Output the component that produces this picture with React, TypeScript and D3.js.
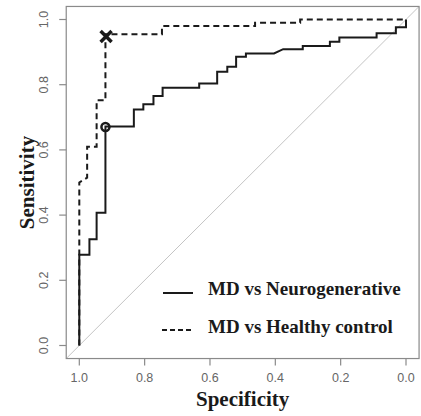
import React from "react";
import * as d3 from "d3";

// ROC points (specificity, sensitivity)
const neuroSpec = [1, 1, 0.969, 0.969, 0.947, 0.947, 0.92, 0.92, 0.833, 0.833, 0.804, 0.804, 0.773, 0.773, 0.745, 0.745, 0.633, 0.633, 0.578, 0.578, 0.547, 0.547, 0.52, 0.52, 0.49, 0.49, 0.404, 0.376, 0.316, 0.316, 0.233, 0.233, 0.204, 0.204, 0.09, 0.09, 0.031, 0.031, 0, 0];
const neuroSens = [0, 0.278, 0.278, 0.326, 0.326, 0.407, 0.407, 0.672, 0.672, 0.724, 0.724, 0.74, 0.74, 0.765, 0.765, 0.791, 0.791, 0.804, 0.804, 0.84, 0.84, 0.855, 0.855, 0.886, 0.886, 0.896, 0.896, 0.909, 0.909, 0.919, 0.919, 0.932, 0.932, 0.945, 0.945, 0.958, 0.958, 0.976, 0.976, 1];

const healthySpec = [1, 1, 0.976, 0.976, 0.947, 0.947, 0.92, 0.92, 0.747, 0.747, 0.462, 0.462, 0.324, 0.324, 0];
const healthySens = [0, 0.5, 0.515, 0.61, 0.61, 0.752, 0.752, 0.955, 0.955, 0.98, 0.98, 0.99, 0.99, 1, 1];

// best thresholds
const neuroBest = [0.92, 0.67];
const healthyBest = [0.918, 0.948];

const xTicks = [1, 0.8, 0.6, 0.4, 0.2, 0];
const yTicks = [0, 0.2, 0.4, 0.6, 0.8, 1];
const seriesNames = ["MD vs Neurogenerative", "MD vs Healthy control"];

const W = 421;
const H = 416;

export default function App() {
  const x = d3.scaleLinear().domain([1, 0]).range([79.3, 406]);
  const y = d3.scaleLinear().domain([0, 1]).range([345.5, 19.5]);

  const left = x(1.04);
  const right = x(-0.04);
  const top = y(1.04);
  const bottom = y(-0.04);

  const line = d3
    .line<number>()
    .x((d) => d)
    .y((d) => d);

  const toPath = (sp: number[], se: number[]) =>
    d3
      .line<number>()
      .x((_, i) => x(sp[i]))
      .y((_, i) => y(se[i]))(sp) as string;

  const axisColor = "#8a8a8a";
  const labelColor = "#666";
  const ink = "#1a1a1a";
  const serif = "'Liberation Serif', 'Times New Roman', serif";
  const sans = "'Liberation Sans', Arial, sans-serif";

  const mx = x(healthyBest[0]);
  const my = y(healthyBest[1]);
  const xs = 5.5;

  return (
    <svg
      width={W}
      height={H}
      style={{ position: "absolute", left: 0, top: 0, background: "#fff" }}
    >
      <defs>
        <clipPath id="plot">
          <rect x={left} y={top} width={right - left} height={bottom - top} />
        </clipPath>
      </defs>

      {/* diagonal reference */}
      <line
        x1={x(1.04)}
        y1={y(-0.04)}
        x2={x(-0.04)}
        y2={y(1.04)}
        stroke="#c4c4c4"
        strokeWidth={1}
        clipPath="url(#plot)"
      />

      {/* curves */}
      <path d={toPath(neuroSpec, neuroSens)} fill="none" stroke={ink} strokeWidth={2} />
      <path
        d={toPath(healthySpec, healthySens)}
        fill="none"
        stroke={ink}
        strokeWidth={2}
        strokeDasharray="6,4"
      />

      {/* threshold markers */}
      <circle cx={x(neuroBest[0])} cy={y(neuroBest[1])} r={4} fill="none" stroke={ink} strokeWidth={2.5} />
      <g stroke={ink} strokeWidth={3.5} strokeLinecap="butt">
        <line x1={mx - xs} y1={my - xs} x2={mx + xs} y2={my + xs} />
        <line x1={mx - xs} y1={my + xs} x2={mx + xs} y2={my - xs} />
      </g>

      {/* frame */}
      <rect x={left} y={top} width={right - left} height={bottom - top} fill="none" stroke={axisColor} strokeWidth={1.2} />

      {/* x axis */}
      {xTicks.map((t) => (
        <g key={"x" + t}>
          <line x1={x(t)} x2={x(t)} y1={bottom} y2={bottom + 7} stroke={axisColor} strokeWidth={1.2} />
          <text x={x(t)} y={382} textAnchor="middle" fontFamily={sans} fontSize={12.5} fill={labelColor}>
            {t.toFixed(1)}
          </text>
        </g>
      ))}

      {/* y axis */}
      {yTicks.map((t) => (
        <g key={"y" + t}>
          <line x1={left - 7} x2={left} y1={y(t)} y2={y(t)} stroke={axisColor} strokeWidth={1.2} />
          <text
            transform={`translate(47.5,${y(t)}) rotate(-90)`}
            textAnchor="middle"
            fontFamily={sans}
            fontSize={12.5}
            fill={labelColor}
          >
            {t.toFixed(1)}
          </text>
        </g>
      ))}

      <text x={(left + right) / 2} y={406} textAnchor="middle" fontFamily={serif} fontWeight="bold" fontSize={21} fill={ink}>
        Specificity
      </text>
      <text
        transform={`translate(34,${(top + bottom) / 2}) rotate(-90)`}
        textAnchor="middle"
        fontFamily={serif}
        fontWeight="bold"
        fontSize={21}
        fill={ink}
      >
        Sensitivity
      </text>

      {/* legend */}
      <line x1={163} x2={193} y1={293} y2={293} stroke={ink} strokeWidth={2} />
      <text x={208} y={295} fontFamily={serif} fontWeight="bold" fontSize={19} fill={ink}>
        {seriesNames[0]}
      </text>
      <line x1={162} x2={192} y1={330} y2={330} stroke={ink} strokeWidth={2} strokeDasharray="5,3" />
      <text x={208} y={332.5} fontFamily={serif} fontWeight="bold" fontSize={19} fill={ink}>
        {seriesNames[1]}
      </text>
    </svg>
  );
}
